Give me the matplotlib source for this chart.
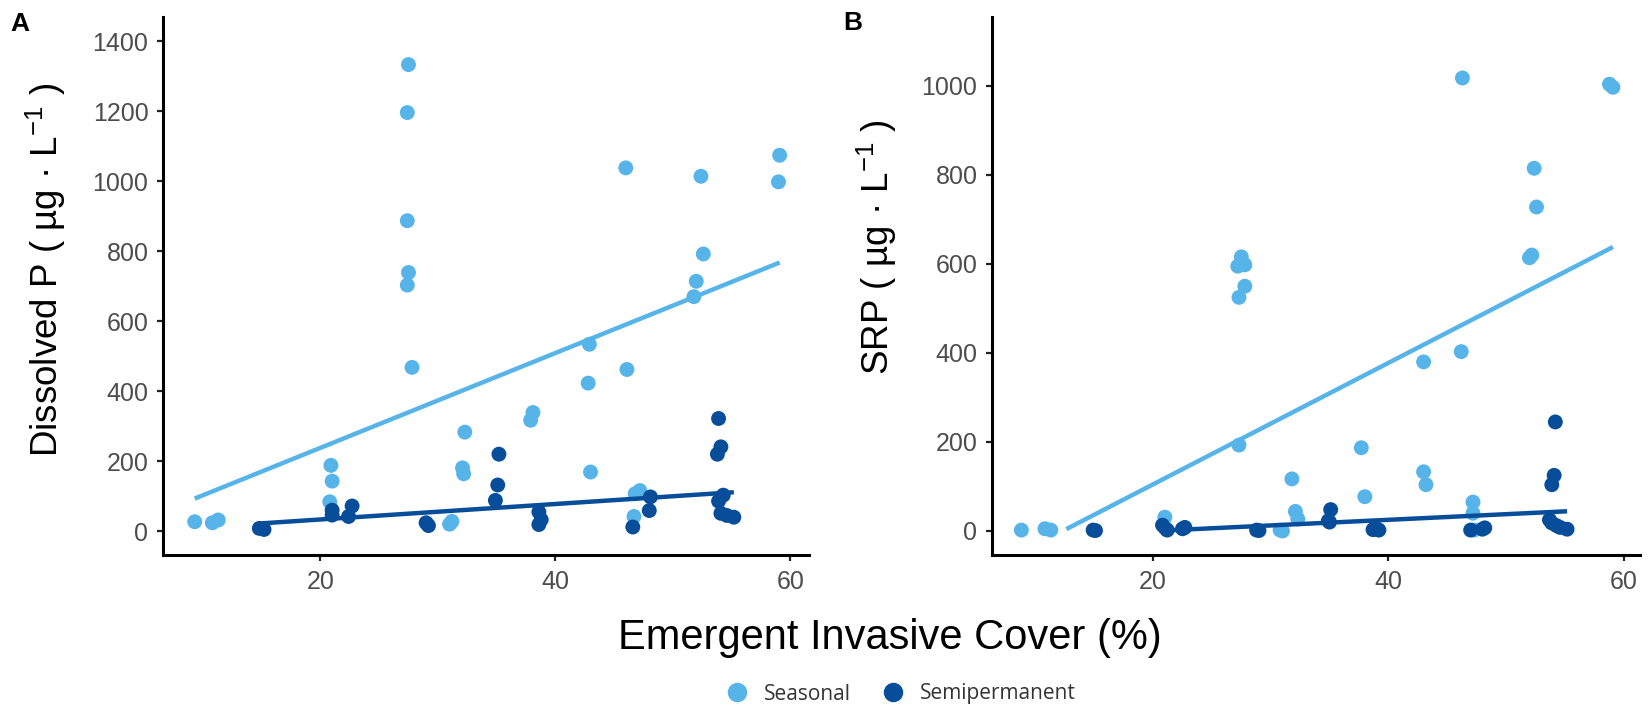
import numpy as np
import matplotlib
matplotlib.use("Agg")
import matplotlib.pyplot as plt
from matplotlib.lines import Line2D

# ---- values ----
# panel A: dissolved P (ug/L) vs emergent invasive cover (%)
a_seas_x = [9.3, 10.8, 11.3, 20.9, 21.0, 20.8, 27.5, 27.4, 27.4, 27.5, 27.4, 27.8,
            31.0, 31.2, 32.3, 32.1, 32.2, 38.1, 37.9, 42.9, 42.8, 43.0, 46.0, 46.1,
            47.2, 46.8, 46.7, 52.4, 52.6, 52.0, 51.8, 59.1, 59.0]
a_seas_y = [27, 24, 32, 188, 143, 84, 1333, 1196, 887, 739, 703, 468,
            20, 28, 283, 181, 164, 339, 317, 534, 423, 169, 1038, 462,
            116, 107, 42, 1014, 792, 714, 670, 1074, 998]
a_semi_x = [14.8, 15.2, 21.0, 21.0, 22.7, 22.4, 29.0, 29.2, 35.2, 35.1, 34.9, 38.6,
            38.8, 38.6, 46.6, 48.1, 48.0, 53.9, 54.1, 53.8, 54.3, 53.9, 54.1, 54.6, 55.2]
a_semi_y = [8, 5, 60, 46, 72, 42, 24, 16, 220, 132, 88, 55,
            33, 19, 12, 98, 59, 322, 241, 220, 103, 86, 51, 45, 40]

# panel B: SRP (ug/L)
b_seas_x = [8.8, 10.8, 11.3, 21.0, 20.9, 21.1, 27.5, 27.2, 27.8, 27.8, 27.3, 27.3,
            30.8, 31.0, 31.8, 32.1, 32.3, 37.7, 38.0, 43.0, 43.0, 43.2, 46.3, 46.2,
            47.2, 47.2, 47.3, 52.4, 52.6, 52.0, 52.2, 58.8, 59.1]
b_seas_y = [2, 5, 2, 31, 12, 4, 616, 595, 598, 550, 525, 193,
            2, 0, 117, 44, 27, 187, 77, 380, 133, 104, 1018, 403,
            65, 40, 2, 815, 728, 614, 620, 1004, 997]
b_semi_x = [14.9, 15.1, 20.8, 21.2, 22.5, 22.7, 28.8, 29.0, 35.1, 34.9, 35.0, 38.9,
            39.2, 38.7, 47.0, 48.2, 48.0, 54.2, 54.1, 53.9, 53.7, 53.9, 54.3, 54.6, 55.2]
b_semi_y = [2, 1, 13, 2, 5, 8, 2, 1, 48, 23, 20, 7,
            2, 3, 2, 7, 4, 245, 125, 104, 25, 18, 12, 8, 4]

# linear trends shown in the figure (slope, intercept)
a_seas_fit = [13.54, -32.7]
a_semi_fit = [2.21, -10.7]
b_seas_fit = [13.64, -168.0]
b_semi_fit = [1.264, -25.5]

groups = ['Seasonal', 'Semipermanent']
light = '#56b4e9'
dark = '#084d9a'

plt.rcParams['font.family'] = ['Liberation Sans', 'DejaVu Sans']
plt.rcParams['mathtext.fontset'] = 'custom'
plt.rcParams['mathtext.rm'] = 'Liberation Sans'
plt.rcParams['mathtext.default'] = 'regular'

W, H = 1648, 712
fig = plt.figure(figsize=(W / 100, H / 100), dpi=100)
ax_a = fig.add_axes([163 / W, 157 / H, 646 / W, 538 / H])
ax_b = fig.add_axes([992 / W, 157 / H, 648 / W, 538 / H])


def trend(ax, x, fit, color):
    # fitted line over the group's x range, dropping the part below zero
    xs = np.linspace(min(x), max(x), 80)
    ys = fit[0] * xs + fit[1]
    keep = ys >= 0
    ax.plot(xs[keep], ys[keep], color=color, lw=3.2, solid_capstyle='butt', zorder=4)


def panel(ax, sx, sy, px, py, sfit, pfit, xlim, ylim, yticks):
    ax.scatter(sx, sy, s=115, color=light, edgecolors='none', zorder=3)
    ax.scatter(px, py, s=115, color=dark, edgecolors='none', zorder=3)
    trend(ax, sx, sfit, light)
    trend(ax, px, pfit, dark)
    ax.set_xlim(*xlim)
    ax.set_ylim(*ylim)
    ax.set_xticks([20, 40, 60])
    ax.set_yticks(yticks)
    for s in ['top', 'right']:
        ax.spines[s].set_visible(False)
    for s in ['left', 'bottom']:
        ax.spines[s].set_linewidth(2.2)
        ax.spines[s].set_color('black')
    ax.tick_params(length=4.5, width=1.6, color='#222222', labelsize=18,
                   labelcolor='#4d4d4d', pad=6)


panel(ax_a, a_seas_x, a_seas_y, a_semi_x, a_semi_y, a_seas_fit, a_semi_fit,
      (6.6, 61.6), (-68, 1469), range(0, 1401, 200))
panel(ax_b, b_seas_x, b_seas_y, b_semi_x, b_semi_y, b_seas_fit, b_semi_fit,
      (6.3, 61.4), (-54, 1155), range(0, 1001, 200))

fig.text(46 / W, 1 - 270 / H, 'Dissolved P ( µg · L$^{-1}$ )', rotation=90,
         ha='center', va='center', fontsize=26.5)
fig.text(877 / W, 1 - 247 / H, 'SRP ( µg · L$^{-1}$ )', rotation=90,
         ha='center', va='center', fontsize=26.5)
fig.text(20 / W, 1 - 24 / H, 'A', ha='center', va='center', fontsize=19, fontweight='bold')
fig.text(853 / W, 1 - 23 / H, 'B', ha='center', va='center', fontsize=19, fontweight='bold')

fig.text(890 / W, 1 - 638 / H, 'Emergent Invasive Cover (%)', ha='center', va='center',
         fontsize=30)

handles = [Line2D([], [], marker='o', ls='none', ms=13, color=c) for c in (light, dark)]
fig.legend(handles, groups, loc='center', bbox_to_anchor=(896 / W, 1 - 694 / H), ncol=2,
           frameon=False, handletextpad=0.3, columnspacing=1.0,
           prop={'family': 'Open Sans', 'size': 15}, labelcolor='#333333')

fig.savefig('out.png', dpi=100)
